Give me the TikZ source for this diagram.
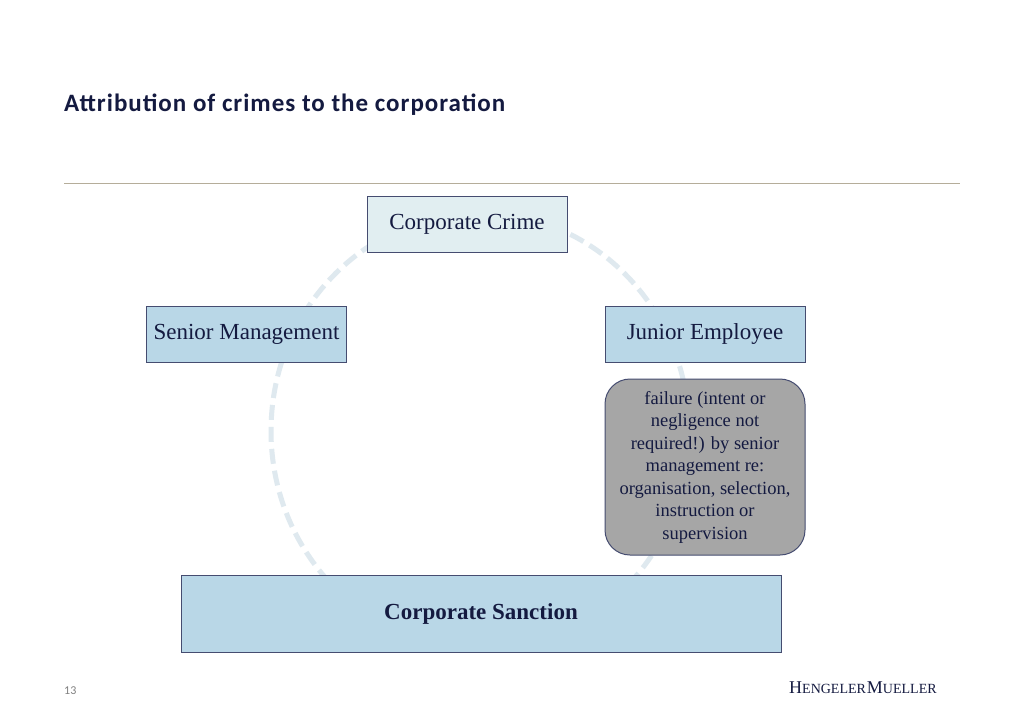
\documentclass[tikz,border=0pt]{standalone}
\usepackage{fontspec}
\setmainfont{Liberation Serif}
\newfontfamily\titlefont[LetterSpace=4]{Carlito}
\newfontfamily\pagefont{Carlito}
\usetikzlibrary{positioning}
\definecolor{inkblue}{HTML}{141A40}
\definecolor{edgeblue}{HTML}{454C70}
\definecolor{paleblue}{HTML}{E1EEF1}
\definecolor{midblue}{HTML}{B9D7E7}
\definecolor{ringblue}{HTML}{DFE9EF}
\definecolor{failgrey}{HTML}{A6A6A6}
\definecolor{ruletan}{HTML}{B5AD9A}
\tikzset{
  box/.style={draw=edgeblue, line width=1pt, fill=midblue, text=inkblue, inner sep=0pt,
    minimum width=200pt, minimum height=56pt, font=\fontsize{23}{27}\selectfont},
  failbox/.style={box, fill=failgrey, rounded corners=25pt, minimum height=176pt,
    align=center, font=\fontsize{18.5}{22.5}\selectfont},
  logopart/.style={inner sep=0pt, text=inkblue, anchor=base west}
}
\begin{document}
\begin{tikzpicture}[x=1pt, y=-1pt, node distance = 100pt, on grid]
  \useasboundingbox (0,0) rectangle (1024,724);
  \fill[white] (0,0) rectangle (1024,724);
  \node[inner sep=0pt, anchor=base west, text=inkblue] (title) at (64,111)
    {\fontsize{25}{30}\titlefont\bfseries Attribution of crimes to the corporation};
  \coordinate (ruleL) at (64,183);
  \coordinate (ruleR) at (960,183);
  \draw[ruletan, line width=1pt] (ruleL) -- (ruleR);
  % dashed ring behind the boxes
  \coordinate (ring) at (480,431);
  \draw[ringblue, line width=5pt, dash pattern=on 15pt off 7pt] (ring) ellipse [x radius=209, y radius=218];
  \node[box, fill=paleblue] (crime) at (467,224) {Corporate Crime};
  \node[box] (senior) [below left=110pt and 220.5pt of crime] {Senior Management};
  \node[box] (junior) [below right=110pt and 238pt of crime] {Junior Employee};
  \node[failbox] (failure) [below=133pt of junior] {failure (intent or\\negligence not\\required!) by senior\\management re:\\organisation, selection,\\instruction or\\supervision};
  \node[box, minimum width=600pt, minimum height=77pt] (sanction) at (481,613.5) {\bfseries Corporate Sanction};
  \node[inner sep=0pt, anchor=base west, text=gray] (page) at (64,694) {\fontsize{12}{14}\pagefont 13};
  \node[logopart] (logo) at (789,693.5) {\fontsize{18}{20}\selectfont H\fontsize{14}{20}\selectfont ENGELER\hspace{1pt}\fontsize{18}{20}\selectfont M\fontsize{14}{20}\selectfont UELLER};
\end{tikzpicture}
\end{document}
